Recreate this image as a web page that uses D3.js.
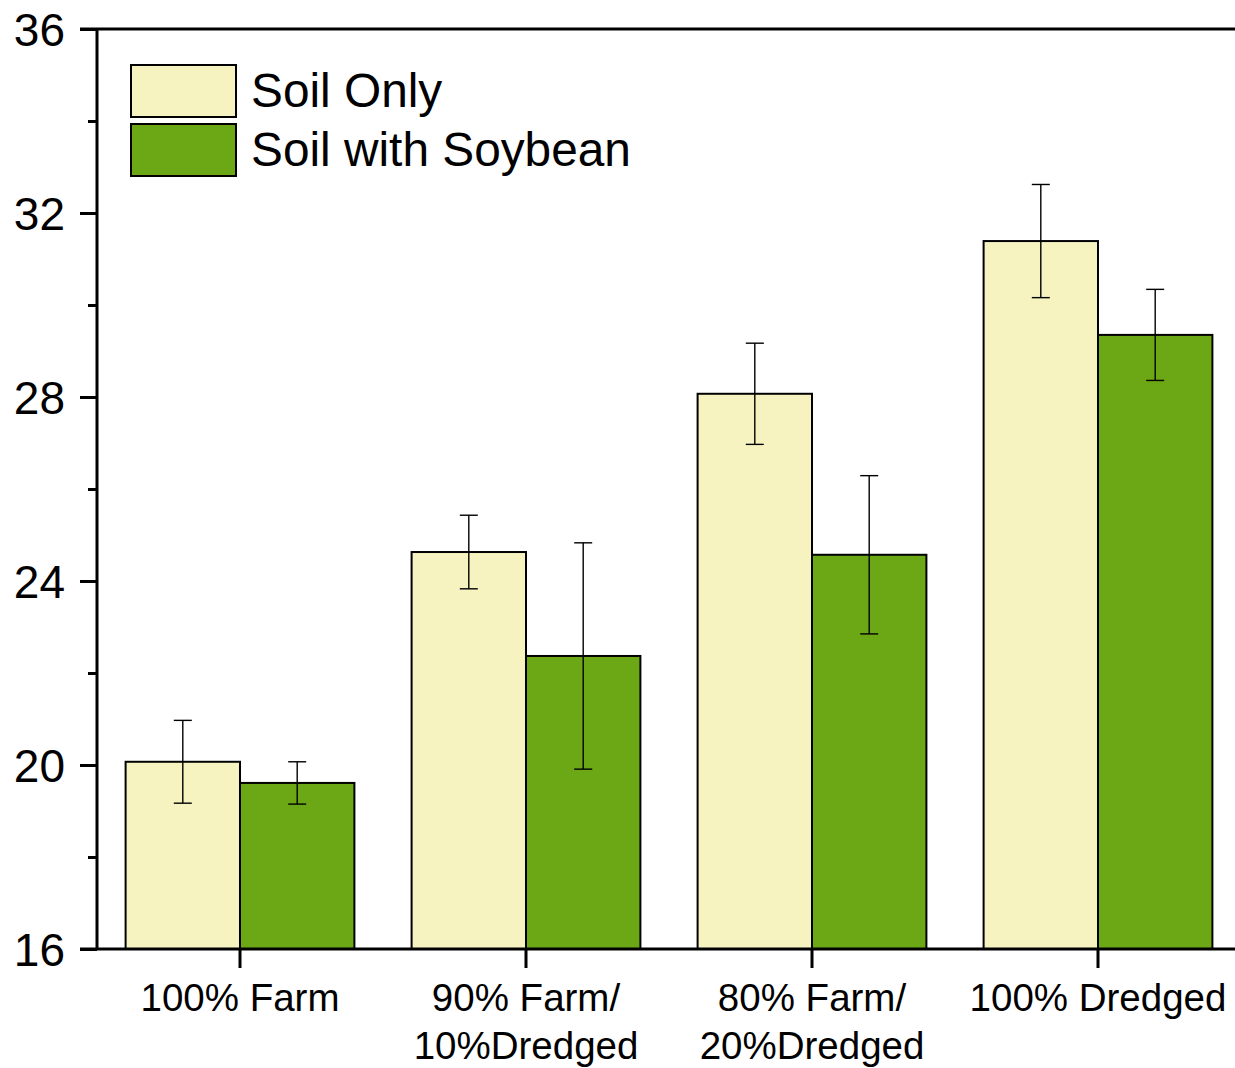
<!DOCTYPE html>
<html>
<head>
<meta charset="utf-8">
<script src="https://cdn.jsdelivr.net/npm/d3@7"></script>
<style>
  body { margin: 0; background: #fff; }
  text { font-family: "Liberation Sans", Arial, sans-serif; fill: #000; }
</style>
</head>
<body>
<div id="chart"></div>
<script>
// data
var categories = ["100% Farm", "90% Farm/\n10%Dredged", "80% Farm/\n20%Dredged", "100% Dredged"];
var seriesNames = ["Soil Only", "Soil with Soybean"];
var soilOnly = [20.07, 24.63, 28.07, 31.39];
var soilOnlyErr = [0.9, 0.8, 1.1, 1.23];
var soybean = [19.61, 22.37, 24.57, 29.35];
var soybeanErr = [0.46, 2.46, 1.72, 0.99];
var yTicks = [16, 20, 24, 28, 32, 36];
var yMinor = [18, 22, 26, 30, 34];
var colors = ["#F6F3C1", "#6CA815"];

var W = 1235, H = 1068;
var svg = d3.select("#chart").append("svg")
    .attr("width", W).attr("height", H);

var x = d3.scaleBand().domain(d3.range(categories.length))
    .range([97, 1241]).paddingInner(0.2).paddingOuter(0.1);
var y = d3.scaleLinear().domain([16, 36]).range([949, 29]);

var series = [
    {name: seriesNames[0], vals: soilOnly, err: soilOnlyErr, color: colors[0]},
    {name: seriesNames[1], vals: soybean, err: soybeanErr, color: colors[1]}
];
var bw = x.bandwidth() / 2;

series.forEach(function (s, si) {
    var g = svg.append("g");
    g.selectAll("rect").data(s.vals).enter().append("rect")
        .attr("x", function (d, i) { return x(i) + si * bw; })
        .attr("y", function (d) { return y(d); })
        .attr("width", bw)
        .attr("height", function (d) { return y(16) - y(d); })
        .attr("fill", s.color)
        .attr("stroke", "#000")
        .attr("stroke-width", 2);
});

// error bars on top of bars
series.forEach(function (s, si) {
    var g = svg.append("g").attr("stroke", "#000").attr("stroke-width", 1.4);
    s.vals.forEach(function (d, i) {
        var cx = x(i) + si * bw + bw / 2;
        var hi = y(d + s.err[i]), lo = y(d - s.err[i]);
        g.append("line").attr("x1", cx).attr("x2", cx).attr("y1", hi).attr("y2", lo);
        g.append("line").attr("x1", cx - 9).attr("x2", cx + 9).attr("y1", hi).attr("y2", hi);
        g.append("line").attr("x1", cx - 9).attr("x2", cx + 9).attr("y1", lo).attr("y2", lo);
    });
});

// axes
var yAxis = d3.axisLeft(y).tickValues(yTicks).tickSize(17).tickPadding(15).tickFormat(d3.format("d"));
var gy = svg.append("g").attr("transform", "translate(97,0)").call(yAxis);
gy.select(".domain").remove();
gy.selectAll(".tick line").attr("stroke-width", 3);
gy.selectAll("text").style("font-size", "46px").attr("dy", "0.36em");

svg.append("g").attr("transform", "translate(97,0)")
    .call(d3.axisLeft(y).tickValues(yMinor).tickSize(9).tickFormat(""))
    .call(function (g) { g.select(".domain").remove(); })
    .selectAll("line").attr("stroke-width", 3);

svg.append("line").attr("x1", 97).attr("x2", 97).attr("y1", 28).attr("y2", 950)
    .attr("stroke", "#000").attr("stroke-width", 3);
svg.append("line").attr("x1", 80).attr("x2", W).attr("y1", y(36)).attr("y2", y(36))
    .attr("stroke", "#000").attr("stroke-width", 3);
svg.append("line").attr("x1", 80).attr("x2", W).attr("y1", y(16)).attr("y2", y(16))
    .attr("stroke", "#000").attr("stroke-width", 3);

var gx = svg.append("g");
categories.forEach(function (c, i) {
    var cx = x(i) + x.bandwidth() / 2;
    gx.append("line").attr("x1", cx).attr("x2", cx).attr("y1", 949).attr("y2", 968)
        .attr("stroke", "#000").attr("stroke-width", 3);
    var t = gx.append("text").attr("text-anchor", "middle").style("font-size", "38.5px");
    c.split("\n").forEach(function (line, li) {
        t.append("tspan").attr("x", cx).attr("y", 1011 + li * 48).text(line);
    });
});

// legend
var lg = svg.append("g");
series.forEach(function (s, si) {
    lg.append("rect").attr("x", 131).attr("y", 65 + si * 59).attr("width", 105).attr("height", 52)
        .attr("fill", s.color).attr("stroke", "#000").attr("stroke-width", 2);
    lg.append("text").attr("x", 251).attr("y", 107 + si * 59)
        .style("font-size", "47.8px").text(s.name);
});
</script>
</body>
</html>
